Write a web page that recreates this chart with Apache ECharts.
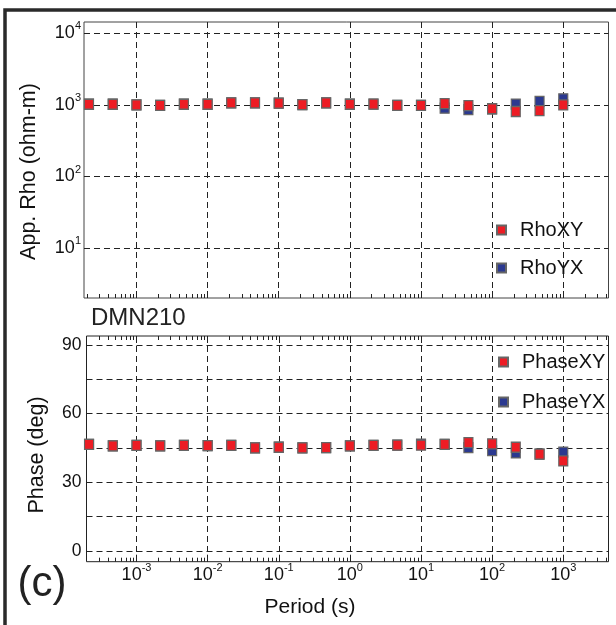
<!DOCTYPE html>
<html>
<head>
<meta charset="utf-8">
<script src="https://cdn.jsdelivr.net/npm/echarts@6/dist/echarts.min.js"></script>
<style>
html,body{margin:0;padding:0;background:#fff;}
#chart{width:616px;height:625px;}
</style>
</head>
<body>
<div id="chart"></div>
<script>
// ---- data ----
const periods = [0.000215, 0.000464, 0.001, 0.00215, 0.00464, 0.01, 0.0215, 0.0464, 0.1, 0.215, 0.464, 1, 2.15, 4.64, 10, 21.5, 46.4, 100, 215, 464, 1000];
const rhoXY = [1023, 1023, 1000, 990, 1023, 1023, 1067, 1067, 1057, 1010, 1067, 1023, 1030, 990, 990, 1045, 978, 885, 810, 831, 1000];
const rhoYX = [1023, 1023, 1000, 990, 1023, 1023, 1067, 1067, 1057, 1010, 1067, 1023, 1030, 990, 990, 900, 860, 885, 1030, 1120, 1220];
const phaseXY = [46.6, 45.9, 46.1, 45.9, 46.1, 46.0, 46.1, 45.0, 45.3, 45.0, 45.1, 45.9, 46.1, 46.2, 46.2, 46.6, 47.3, 46.8, 45.3, 42.3, 39.3];
const phaseYX = [46.6, 45.9, 46.1, 45.9, 46.1, 46.0, 46.1, 45.0, 45.3, 45.0, 45.1, 45.9, 46.1, 46.2, 46.7, 46.6, 45.1, 43.8, 42.8, 42.3, 43.2];
const periodTicks = [0.001, 0.01, 0.1, 1, 10, 100, 1000];
const rhoTicks = [10, 100, 1000, 10000];
const phaseGrid = [0, 15, 30, 45, 60, 75, 90];
const phaseLabels = [0, 30, 60, 90];
const minorMultipliers = [2, 3, 4, 5, 6, 7, 8, 9];
const minorDecades = [0.0001, 0.001, 0.01, 0.1, 1, 10, 100, 1000];

// ---- style ----
const FONT = "'Liberation Sans', Arial, Helvetica, sans-serif";
const INK = '#111';
const RED = '#ed1c24';
const BLUE = '#2b3990';
const gridLine = {show: true, lineStyle: {color: '#222', width: 1, type: [6, 4]}};

const minorTickValues = [];
minorDecades.forEach(d => minorMultipliers.forEach(m => minorTickValues.push(m * d)));

function supLabel(v) {
  const e = Math.round(Math.log10(v));
  return '{b|10}{s|' + e + '}';
}
const supRich = {
  b: {fontSize: 18, lineHeight: 25, color: INK, fontFamily: FONT},
  s: {fontSize: 11, lineHeight: 11, verticalAlign: 'top', color: INK, fontFamily: FONT}
};
const supLabelBase = {formatter: supLabel, rich: supRich, fontSize: 18, lineHeight: 25, color: INK, fontFamily: FONT};

function minorTickRenderer(both) {
  return function (params, api) {
    const cs = params.coordSys;
    const p = api.coord([api.value(0), api.value(1)]);
    let x = p[0];
    if (x <= cs.x + 0.5 || x >= cs.x + cs.width - 0.5) return null;
    x = Math.round(x) + 0.5;
    const yb = cs.y + cs.height;
    const children = [{type: 'line', shape: {x1: x, y1: yb, x2: x, y2: yb - 4}, style: {stroke: '#222', lineWidth: 1}}];
    if (both) {
      children.push({type: 'line', shape: {x1: x, y1: cs.y, x2: x, y2: cs.y + 4}, style: {stroke: '#222', lineWidth: 1}});
    }
    return {type: 'group', children: children};
  };
}

const sym = {symbol: 'rect', symbolSize: [9, 10]};

const option = {
  backgroundColor: '#fff',
  animation: false,
  textStyle: {fontFamily: FONT},
  grid: [
    {left: 84, top: 22, width: 524.5, height: 276, show: true, borderColor: '#444', borderWidth: 1},
    {left: 86.5, top: 336, width: 522, height: 225.7, show: true, borderColor: '#222', borderWidth: 1}
  ],
  xAxis: [
    {type: 'log', gridIndex: 0, min: 1.83e-4, max: 4325,
     axisLine: {show: false, onZero: false},
     axisTick: {show: true, inside: true, length: 7, customValues: periodTicks, lineStyle: {color: '#222'}},
     axisLabel: {show: false},
     splitLine: gridLine},
    {type: 'log', gridIndex: 1, min: 1.98e-4, max: 4325, position: 'bottom',
     axisLine: {show: false, onZero: false},
     axisTick: {show: true, inside: true, length: 7, customValues: periodTicks, lineStyle: {color: '#222'}},
     axisLabel: Object.assign({customValues: periodTicks, margin: 1}, supLabelBase),
     splitLine: gridLine},
    {type: 'log', gridIndex: 1, min: 1.98e-4, max: 4325, position: 'top',
     axisLine: {show: false, onZero: false},
     axisTick: {show: true, inside: true, length: 7, customValues: periodTicks, lineStyle: {color: '#222'}},
     axisLabel: {show: false},
     splitLine: {show: false}}
  ],
  yAxis: [
    {type: 'log', gridIndex: 0, min: 2.0, max: 14450,
     axisLine: {show: false},
     axisTick: {show: false, customValues: rhoTicks},
     axisLabel: Object.assign({customValues: rhoTicks, margin: 3}, supLabelBase),
     splitLine: gridLine},
    {type: 'value', gridIndex: 1, min: -4.7, max: 93.9,
     axisLine: {show: false},
     axisTick: {show: false, customValues: phaseGrid},
     axisLabel: {customValues: phaseLabels, fontSize: 17.5, color: INK, fontFamily: FONT, margin: 5},
     splitLine: gridLine}
  ],
  legend: [
    {data: ['RhoXY', 'RhoYX'], orient: 'vertical', left: 491, top: 214, itemWidth: 9, itemHeight: 9, itemGap: 16,
     textStyle: {fontSize: 20, color: INK, fontFamily: FONT, lineHeight: 22, padding: [0, 0, 0, 9]}},
    {data: ['PhaseXY', 'PhaseYX'], orient: 'vertical', left: 493, top: 346, itemWidth: 9, itemHeight: 9, itemGap: 18,
     textStyle: {fontSize: 20, color: INK, fontFamily: FONT, lineHeight: 22, padding: [0, 0, 0, 9]}}
  ],
  series: [
    Object.assign({type: 'scatter', name: 'RhoYX', xAxisIndex: 0, yAxisIndex: 0,
     data: periods.map((p, i) => [p, rhoYX[i]]),
     itemStyle: {color: BLUE, borderColor: '#666', borderWidth: 1.2, opacity: 1}}, sym),
    Object.assign({type: 'scatter', name: 'RhoXY', xAxisIndex: 0, yAxisIndex: 0,
     data: periods.map((p, i) => [p, rhoXY[i]]),
     itemStyle: {color: RED, borderColor: '#666', borderWidth: 1.2, opacity: 1}}, sym),
    Object.assign({type: 'scatter', name: 'PhaseYX', xAxisIndex: 1, yAxisIndex: 1,
     data: periods.map((p, i) => [p, phaseYX[i]]),
     itemStyle: {color: BLUE, borderColor: '#666', borderWidth: 1.2, opacity: 1}}, sym),
    Object.assign({type: 'scatter', name: 'PhaseXY', xAxisIndex: 1, yAxisIndex: 1,
     data: periods.map((p, i) => [p, phaseXY[i]]),
     itemStyle: {color: RED, borderColor: '#666', borderWidth: 1.2, opacity: 1}}, sym),
    {type: 'custom', name: 'minorTop', xAxisIndex: 0, yAxisIndex: 0, silent: true, clip: false,
     renderItem: minorTickRenderer(false), data: minorTickValues.map(v => [v, 1000]), z: 1},
    {type: 'custom', name: 'minorBottom', xAxisIndex: 1, yAxisIndex: 1, silent: true, clip: false,
     renderItem: minorTickRenderer(true), data: minorTickValues.map(v => [v, 45]), z: 1}
  ],
  graphic: [
    {type: 'rect', shape: {x: 5, y: 10, width: 800, height: 800}, style: {fill: null, stroke: '#2a2a2a', lineWidth: 3.5}, silent: true, z: 100},
    {type: 'text', x: 29, y: 171.5, rotation: Math.PI / 2,
     style: {text: 'App. Rho (ohm-m)', fontSize: 21.5, fontFamily: FONT, fill: INK, align: 'center', verticalAlign: 'middle'}},
    {type: 'text', x: 37.5, y: 455, rotation: Math.PI / 2,
     style: {text: 'Phase (deg)', fontSize: 21.5, fontFamily: FONT, fill: INK, align: 'center', verticalAlign: 'middle'}},
    {type: 'text', x: 310, y: 607,
     style: {text: 'Period (s)', fontSize: 21, fontFamily: FONT, fill: INK, align: 'center', verticalAlign: 'middle'}},
    {type: 'text', x: 91, y: 318,
     style: {text: 'DMN210', fontSize: 24, fontFamily: FONT, fill: '#222', align: 'left', verticalAlign: 'middle'}},
    {type: 'text', x: 42, y: 584,
     style: {text: '(c)', fontSize: 42, fontFamily: FONT, fill: '#222', align: 'center', verticalAlign: 'middle'}}
  ]
};

const chart = echarts.init(document.getElementById('chart'), null, {renderer: 'canvas'});
chart.setOption(option);
</script>
</body>
</html>
